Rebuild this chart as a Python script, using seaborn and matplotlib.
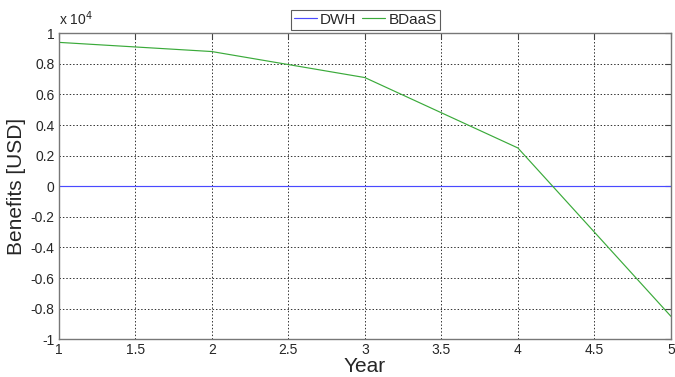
"""Benefits of BDaaS vs DWH over the years."""

import matplotlib
matplotlib.use("Agg")
import matplotlib.pyplot as plt
import numpy as np
import pandas as pd
import seaborn as sns
from matplotlib.ticker import FuncFormatter, MultipleLocator

years = [1, 2, 3, 4, 5]
dwh_benefits = [0, 0, 0, 0, 0]
bdaas_benefits = [9400, 8800, 7100, 2500, -8500]

df = pd.DataFrame({
    "Year": years * 2,
    "Benefits": dwh_benefits + bdaas_benefits,
    "System": ["DWH"] * len(years) + ["BDaaS"] * len(years),
})

sns.set_style("white")
plt.rcParams["font.family"] = ["Liberation Sans", "DejaVu Sans"]

fig = plt.figure(figsize=(6.75, 3.77), dpi=100)
ax = fig.add_axes([0.087, 0.1, 0.907, 0.812])

colors = {"DWH": "#4a4aff", "BDaaS": "#3aaa3a"}
sns.lineplot(data=df, x="Year", y="Benefits", hue="System",
             palette=colors, linewidth=0.85, ax=ax, legend=False)

ax.set_xlim(1, 5)
ax.set_ylim(-1e4, 1e4)
ax.xaxis.set_major_locator(MultipleLocator(0.5))
ax.yaxis.set_major_locator(MultipleLocator(2000))
ax.xaxis.set_major_formatter(FuncFormatter(lambda v, p: f"{v:g}"))
ax.yaxis.set_major_formatter(FuncFormatter(lambda v, p: f"{round(v / 1e4, 1):g}"))
ax.tick_params(direction="in", length=4, labelsize=10, color="#444444",
               top=True, right=True, pad=3)
ax.grid(True, linestyle=(0, (1.5, 2)), color="#333333", linewidth=0.7)
for s in ax.spines.values():
    s.set_color("#777777")
    s.set_linewidth(1.0)

ax.set_xlabel("Year", fontsize=15, labelpad=0)
ax.set_ylabel("Benefits [USD]", fontsize=15, labelpad=3)
fig.text(0.087, 0.925, "x 10$^{4}$", fontsize=10, ha="left", va="bottom")

handles = [plt.Line2D([], [], color=colors["DWH"], lw=0.85),
           plt.Line2D([], [], color=colors["BDaaS"], lw=0.85)]
leg = fig.legend(handles, ["DWH", "BDaaS"], loc="center", ncol=2,
                 bbox_to_anchor=(0.541, 0.948), fontsize=11, frameon=True,
                 fancybox=False, edgecolor="#333333", handlelength=1.5,
                 handletextpad=0.2, columnspacing=0.4, borderpad=0.2,
                 borderaxespad=0)
leg.get_frame().set_linewidth(0.8)

fig.savefig("out.png", dpi=100)
